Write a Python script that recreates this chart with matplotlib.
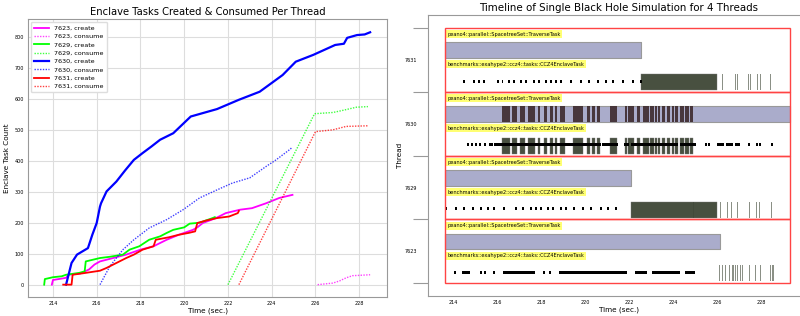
import numpy as np
import matplotlib
matplotlib.use("Agg")
import matplotlib.pyplot as plt
from matplotlib.patches import Rectangle

# ---- left chart: cumulative enclave task counts per thread ----
t_7623_create = [213.95, 214.0, 214.6, 214.7, 215.25, 215.65, 215.9, 216.15, 216.75, 217.35, 218.0, 218.6,
                 219.2, 219.75, 220.4, 220.6, 220.85, 221.45, 221.9, 222.55, 223.1, 223.75, 224.35, 224.95]
n_7623_create = [0, 15, 22, 32, 36, 49, 65, 75, 86, 97, 113, 124, 145, 161, 177, 185, 199, 215, 231, 242,
                 247, 263, 280, 290]
t_7623_consume = [226.1, 226.8, 227.1, 227.4, 227.7, 228.0, 228.5]
n_7623_consume = [0, 5, 12, 22, 29, 30, 32]

t_7629_create = [213.6, 213.63, 214.0, 214.4, 214.6, 215.2, 215.45, 215.5, 216.15, 216.6, 217.2, 217.5,
                 217.95, 218.4, 218.9, 219.2, 219.5, 220.0, 220.25, 220.7, 221.3, 221.4]
n_7629_create = [0, 18, 24, 27, 32, 38, 43, 75, 86, 90, 97, 113, 124, 145, 156, 167, 177, 185, 197, 200,
                 215, 218]
t_7629_consume = [222.0, 225.96, 226.8, 227.2, 227.87, 228.4]
n_7629_consume = [0, 552, 556, 562, 573, 575]

t_7630_create = [214.6, 214.85, 215.1, 215.6, 215.8, 216.0, 216.15, 216.2, 216.45, 216.9, 217.3, 217.7,
                 218.1, 218.5, 218.9, 219.5, 220.3, 221.5, 222.5, 223.45, 224.5, 225.1, 225.9, 226.9,
                 227.3, 227.45, 227.9, 228.25, 228.5]
n_7630_create = [0, 70, 97, 118, 161, 199, 252, 263, 301, 333, 369, 403, 425, 446, 468, 489, 543, 567,
                 597, 623, 677, 720, 742, 774, 778, 797, 806, 808, 815]
t_7630_consume = [216.15, 216.6, 217.2, 217.7, 218.4, 219.2, 219.95, 220.7, 221.5, 222.2, 223.0, 223.75,
                  224.2, 224.8, 224.9]
n_7630_consume = [0, 59, 113, 145, 183, 210, 242, 280, 306, 328, 345, 382, 403, 435, 441]

t_7631_create = [214.47, 214.85, 214.9, 215.4, 216.15, 216.45, 216.9, 217.35, 217.7, 218.1, 218.6, 218.7,
                 219.3, 219.75, 220.2, 220.5, 220.6, 221.0, 221.5, 222.05, 222.45, 222.5]
n_7631_create = [0, 0, 32, 37, 45, 54, 70, 86, 97, 113, 124, 145, 153, 161, 167, 172, 199, 207, 215, 220,
                 231, 238]
t_7631_consume = [222.5, 226.0, 226.8, 227.4, 228.4]
n_7631_consume = [0, 494, 500, 511, 513]

# ---- right chart: timeline per thread (top to bottom) ----
threads = ['7631', '7630', '7629', '7623']
traverse_end = [222.55, 229.3, 222.07, 226.14]
row_start = 213.64
row_end = 229.3

spawn_dots_7631 = [214.47, 214.92, 215.15, 215.38, 215.98, 216.2, 216.5, 216.74, 217.05, 217.27, 217.65,
                   217.88, 218.18, 218.4, 218.64, 218.86, 219.3, 219.77, 220.15, 220.53, 220.9, 221.2,
                   221.67, 222.12, 222.5]
spawn_dots_7630 = [214.62, 214.8, 215.0, 215.2, 215.4, 215.62, 215.72, 225.45, 225.6, 227.4, 227.75,
                   227.88, 228.45]
spawn_dots_7629 = [213.64, 214.09, 214.47, 214.85, 215.23, 215.53, 215.83, 216.29, 216.82, 217.12, 217.5,
                   217.73, 217.95, 218.26, 218.49, 218.86, 219.09, 219.47, 219.85, 220.23, 220.68,
                   220.98, 221.36]
spawn_dots_7623 = [214.02, 215.23, 215.4, 215.83, 218.1, 218.35]
spawn_bursts_7630 = [(215.85, 216.06), (216.06, 220.7), (220.75, 221.5), (221.75, 222.0), (222.1, 224.2),
                     (224.3, 225.05), (225.98, 226.3), (226.4, 226.7), (226.8, 227.05)]
spawn_bursts_7623 = [(214.39, 214.77), (216.29, 217.73), (218.79, 221.89), (222.27, 222.8),
                     (223.03, 224.32), (224.55, 225.0)]

run_blocks_7631 = [(222.53, 226.01)]
run_lines_7631 = [226.21, 226.29, 226.82, 226.9, 226.97, 227.42, 227.5, 227.8, 227.95, 228.4]
run_blocks_7629 = [(222.07, 226.01)]
run_lines_7629 = [224.92, 226.14, 226.29, 226.44, 226.62, 226.9, 227.38, 227.44, 227.77, 227.88, 227.92,
                  228.45]
run_lines_7623 = [226.1, 226.21, 226.29, 226.36, 226.47, 226.56, 226.67, 226.74, 226.82, 226.9, 226.97,
                  227.05, 227.12, 227.38, 227.45, 227.73, 227.95, 228.41, 228.49, 228.53]
run_blocks_7630 = [(216.21, 216.59), (216.67, 216.89), (217.05, 217.27), (217.42, 217.73), (217.88, 217.95),
                   (218.11, 218.26), (218.41, 218.56), (218.64, 218.71), (218.86, 219.09), (219.47, 219.92),
                   (220.08, 220.23), (220.3, 220.45), (220.53, 220.68), (221.14, 221.44), (221.82, 221.89),
                   (221.97, 222.2), (222.35, 222.5), (222.65, 222.88), (222.95, 223.11), (223.18, 223.26),
                   (223.33, 223.41), (223.48, 223.64), (223.71, 223.86), (223.94, 224.02), (224.09, 224.24),
                   (224.32, 224.47), (224.55, 224.7), (224.77, 224.92)]

fig = plt.figure(figsize=(8, 3.16), dpi=100)

# ================= left =================
ax1 = fig.add_axes([0.035, 0.06, 0.449, 0.88])
series = [
    ('7623', t_7623_create, n_7623_create, t_7623_consume, n_7623_consume, '#ff00ff'),
    ('7629', t_7629_create, n_7629_create, t_7629_consume, n_7629_consume, '#00ff00'),
    ('7630', t_7630_create, n_7630_create, t_7630_consume, n_7630_consume, '#0000ff'),
    ('7631', t_7631_create, n_7631_create, t_7631_consume, n_7631_consume, '#ff0000'),
]
for name, tc, nc, tu, nu, col in series:
    lw = 1.6 if name == '7630' else 1.3
    ax1.plot(tc, nc, color=col, lw=lw, label=f'{name}, create')
    ax1.plot(tu, nu, color=col, lw=1.0, ls=(0, (1, 1)), alpha=0.75, label=f'{name}, consume')

ax1.set_xlim(212.86, 229.28)
ax1.set_ylim(-40, 858)
ax1.set_xticks(np.arange(214, 229, 2))
ax1.set_yticks(np.arange(0, 801, 100))
ax1.grid(True, color='#dddddd', lw=0.8)
ax1.set_axisbelow(True)
ax1.tick_params(labelsize=3.5, length=0, pad=3)
for s in ax1.spines.values():
    s.set_color('#999999')
ax1.set_title('Enclave Tasks Created & Consumed Per Thread', fontsize=7.2, pad=3)
ax1.set_xlabel('Time (sec.)', fontsize=5.2, labelpad=1)
ax1.set_ylabel('Enclave Task Count', fontsize=5.2, labelpad=3)
ax1.legend(loc='upper left', fontsize=4.6, handlelength=2.3, labelspacing=0.45,
           borderpad=0.5, framealpha=1, edgecolor='#dddddd')

# ================= right =================
ax2 = fig.add_axes([0.535, 0.063, 0.477, 0.889])
ax2.set_xlim(212.86, 230.2)
ax2.set_ylim(4.2, -0.2)

dots = [spawn_dots_7631, spawn_dots_7630, spawn_dots_7629, spawn_dots_7623]
bursts = [[], spawn_bursts_7630, [], spawn_bursts_7623]
blocks = [run_blocks_7631, run_blocks_7630, run_blocks_7629, []]
lines = [run_lines_7631, [], run_lines_7629, run_lines_7623]
enc_col = '#3e4636'

for i, th in enumerate(threads):
    # traverse task
    ax2.broken_barh([(row_start, traverse_end[i] - row_start)], (i + 0.22, 0.25),
                    facecolor='#aaaccb', edgecolor='#999999', lw=0.8, zorder=2)
    ax2.text(row_start + 0.1, i + 0.1, 'peano4::parallel::SpacetreeSet::TraverseTask', fontsize=3.6,
             va='center', ha='left', zorder=5,
             bbox=dict(facecolor='yellow', alpha=0.55, edgecolor='none', pad=1.2))
    ax2.text(row_start + 0.1, i + 0.57, 'benchmarks::exahype2::ccz4::tasks::CCZ4EnclaveTask', fontsize=3.6,
             va='center', ha='left', zorder=5,
             bbox=dict(facecolor='yellow', alpha=0.55, edgecolor='none', pad=1.2))
    # enclave task runs
    if blocks[i]:
        ax2.broken_barh([(a, b - a) for a, b in blocks[i]], (i + 0.72, 0.25),
                        facecolor=enc_col, edgecolor='#777777', lw=0.3, alpha=0.95, zorder=3)
    if lines[i]:
        ax2.broken_barh([(x, 0.035) for x in lines[i]], (i + 0.72, 0.25),
                        facecolor=enc_col, edgecolor='none', alpha=0.6, zorder=3)
    # spawn markers
    ax2.broken_barh([(x, 0.09) for x in dots[i]], (i + 0.81, 0.045),
                    facecolor='black', edgecolor='none', zorder=4)
    if bursts[i]:
        ax2.broken_barh([(a, b - a) for a, b in bursts[i]], (i + 0.81, 0.045),
                        facecolor='black', edgecolor='none', zorder=4)
    ax2.add_patch(Rectangle((row_start, i), row_end - row_start, 1, fill=False,
                            edgecolor='#ff4444', lw=1.0, zorder=6))

# enclave tasks running inside the traverse task of 7630
ax2.broken_barh([(a, b - a) for a, b in run_blocks_7630], (1.22, 0.25),
                facecolor='#3d2a2e', edgecolor='none', alpha=0.9, zorder=3)
# stray marker at the start of the 7623 traverse task
ax2.broken_barh([(row_start - 0.03, 0.09)], (3.325, 0.045), facecolor='black', edgecolor='none', zorder=4)

ax2.set_yticks([0, 1, 2, 3, 4])
ax2.set_yticklabels([])
ax2.set_yticks([0.5, 1.5, 2.5, 3.5], minor=True)
ax2.set_yticklabels(threads, minor=True)
ax2.tick_params(axis='y', which='major', length=11, color='#999999')
ax2.tick_params(axis='y', which='minor', length=0, labelsize=3.5, pad=8)
ax2.set_xticks(np.arange(214, 229, 2))
ax2.tick_params(axis='x', labelsize=3.5, length=0, pad=3)
for s in ax2.spines.values():
    s.set_color('#999999')
ax2.set_title('Timeline of Single Black Hole Simulation for 4 Threads', fontsize=7.4, pad=3)
ax2.set_xlabel('Time (sec.)', fontsize=5.2, labelpad=1)
ax2.set_ylabel('Thread', fontsize=5.2, labelpad=1)

fig.savefig('out.png', dpi=100)
